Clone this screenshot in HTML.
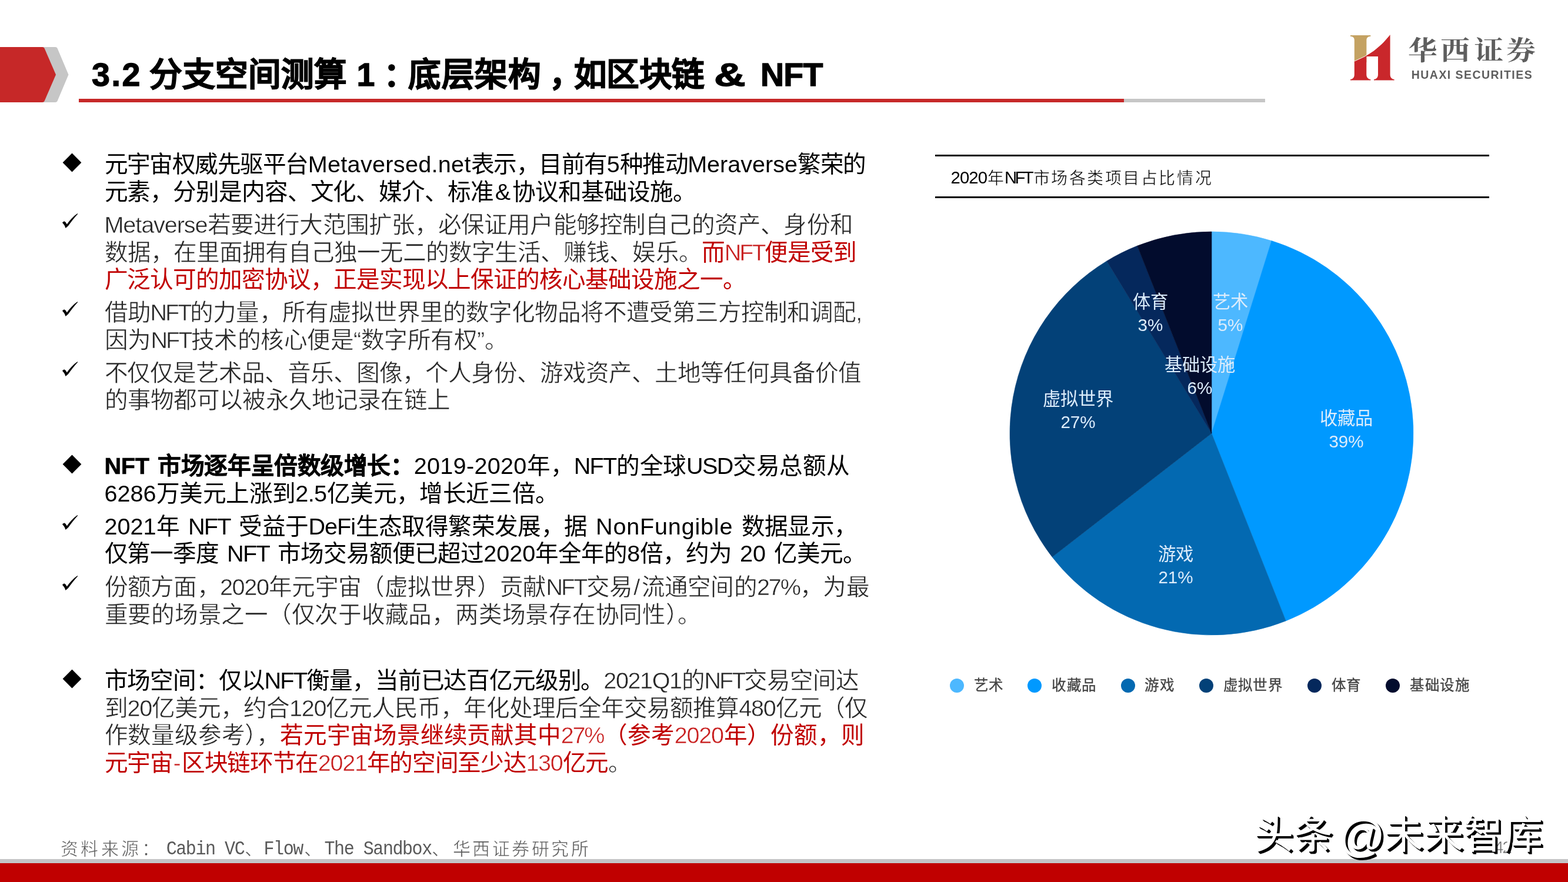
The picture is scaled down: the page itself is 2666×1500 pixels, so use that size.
<!DOCTYPE html>
<html lang="zh-CN">
<head>
<meta charset="utf-8">
<title>3.2 分支空间测算 1：底层架构，如区块链 &amp; NFT</title>
<style>
html,body{margin:0;padding:0}
body{width:2666px;height:1500px;position:relative;overflow:hidden;background:#fff;color:#000;
  font-family:"Liberation Sans",sans-serif}
p,h1,h2{margin:0;padding:0;font-weight:normal}
header,main,footer{position:absolute;left:0;top:0;width:2666px;height:1500px;will-change:transform}
.a,.al{letter-spacing:0}
.abs,.ln,.bl,.pie,.pl,.dot,.lg{position:absolute}
/* header */
.arrow{position:absolute;left:0;top:80px}
h1{position:absolute;left:0;top:89px;width:1500px;height:76px;line-height:76px;font-size:55.56px;font-weight:bold;white-space:nowrap}
h1 span{position:absolute;top:0;height:76px;text-align:justify;text-align-last:justify;letter-spacing:-0.6px;-webkit-text-stroke:1.3px #000}
.rule{position:absolute;left:134px;top:168px;width:2017px;height:6px;background:#c6c6c6}
.rule i{position:absolute;left:0;top:0;width:1777px;height:6px;background:#c62828}
.en{left:2399.8px;top:115.3px;height:24px;line-height:24px;font-size:19.5px;font-weight:bold;letter-spacing:1.45px;color:#5e5e5e;white-space:nowrap}
/* body text */
.ln{left:177.5px;height:46.67px;line-height:46.67px;font-size:39.6px;white-space:nowrap;
  text-align:justify;text-align-last:justify;letter-spacing:-1.2px;word-spacing:4px}
.lt{-webkit-text-stroke:0.5px #fff;color:#262626}
.rd{color:#c00000}
.rd .al{-webkit-text-stroke:0.5px #fff;color:#c81e1e}
.ln b{font-weight:bold;-webkit-text-stroke:0.7px #000}
/* chart */
.cline{position:absolute;left:1590px;width:942px;height:2.8px;background:#000}
.ctitle{position:absolute;left:0;top:285px;width:2666px;height:34px;line-height:34px;white-space:nowrap}
.ctitle span{position:absolute;top:0;height:34px}
.ctitle .cj{font-size:28px;margin-top:1.5px;text-align:justify;text-align-last:justify;-webkit-text-stroke:0.5px #fff}
.ctitle .la{font-size:29.3px;letter-spacing:-0.9px}
.ctitle .nft{letter-spacing:-3.6px}
.pie{left:1709.5px;top:387px}
.pl{width:200px;text-align:center;color:#dcecfb;font-size:30.3px;line-height:39px;white-space:nowrap}
.pl span{display:block;height:39px}
.pl .pp{font-size:29.6px}
.dot{top:1153.5px;width:24px;height:24px;border-radius:50%}
.lg{top:1150px;height:32px;line-height:32px;font-size:24.5px;color:#444;-webkit-text-stroke:0.35px #444;white-space:nowrap;text-align:justify;text-align-last:justify}
/* footer */
.src{position:absolute;top:1424px;height:36px;line-height:36px;color:#595959;white-space:nowrap}
.src.cj{font-size:30px;margin-top:1.5px;text-align:justify;text-align-last:justify;-webkit-text-stroke:0.6px #fff}
.src.mo{font-family:"Liberation Mono",monospace;font-size:30px;letter-spacing:-1.44px;transform-origin:0 25.5px;transform:translateY(3.4px) scaleY(1.126)}
.wm{position:absolute;left:0;top:1378px;width:2666px;height:84px;line-height:84px;font-size:67px;color:#fff;white-space:nowrap;
  text-shadow:2px 2px 0 #000,3px 3px 0 #000,4px 4px 0 #000}
.wm span{position:absolute;top:0;height:84px;text-align:justify;text-align-last:justify}
.pg{position:absolute;left:2540px;top:1424px;height:34px;line-height:34px;font-size:30px;color:#6e6e6e;letter-spacing:-2.5px;-webkit-text-stroke:0.5px #fff}
.fgray{position:absolute;left:0;top:1460.5px;width:2666px;height:7px;background:#c4c4c6}
.fred{position:absolute;left:0;top:1467.5px;width:2666px;height:32.5px;background:#c00000}
</style>
</head>
<body>
<header>
<svg class="arrow" width="120" height="94" viewBox="0 0 120 94" aria-hidden="true">
<path d="M70 0H94Q96.500 0 97.500 2L116.500 47 97.500 92Q96.500 94 94 94H70z" fill="#c6c6c6"/>
<path d="M0 0H72Q74.500 0 75.500 2L95 47 75.500 92Q74.500 94 72 94H0z" fill="#c62828"/>
</svg>
<h1><span style="left:156px;letter-spacing:2.6px">3.2</span><span style="left:253.5px;width:336px">分支空间测算</span><span style="left:606.5px">1</span><span style="left:652px">：</span><span style="left:694px;width:225px">底层架构</span><span style="left:934px">，</span><span style="left:976px;width:220px">如区块链</span><span style="left:1214px;transform:scaleX(1.34);transform-origin:0 50%">&amp;</span><span style="left:1293px;letter-spacing:-0.8px">NFT</span></h1>
<div class="rule"><i></i></div>
<svg class="abs" style="left:2290px;top:55px" width="330" height="85" viewBox="0 0 330 85" role="img" aria-label="华西证券 HUAXI SECURITIES"><title>华西证券</title>
<g transform="translate(6 5)"><path d="M0 0H34.4V1.7C30.4 2.3 27.4 3.6 27.4 8.2V46H6.8V8.2C6.8 3.6 4 2.3 0 1.7z" fill="#c4a262"/><path d="M6.8 44.1Q43.65 29.95 67.2 -0.9L67.6 -0.4V66.5C67.6 72 70.4 74.3 74.6 75V76.6H40V75C44.2 74.3 47 72 47 66.5V36.1H27.3V66.5C27.3 72 30.2 74.3 34.4 75V76.6H0V75C4.2 74.3 6.8 72 6.8 66.5z" fill="#c9272b"/><path d="M6.6 44.2Q43.65 29.95 67.2 -0.9" fill="none" stroke="#fff" stroke-width="0.9"/></g>
<text transform="translate(0 46.66) scale(1 0.908)" x="103.96 159.20 216.45 271.35" y="0" font-family="'Liberation Serif','Noto Serif CJK SC',serif" font-size="49.8" font-weight="bold" fill="#5e5e5e">华西证券</text>
</svg>
<div class="abs en">HUAXI SECURITIES</div>
</header>
<main>
<section class="text">
<p class="ln" style="top:255.8px;width:1294.0px;letter-spacing:-1.60px">元宇宙权威先驱平台<span class="a" style="letter-spacing:0.3px">Metaversed.net</span>表示，目前有<span class="a">5</span>种推动<span class="a">Meraverse</span>繁荣的</p>
<p class="ln" style="top:302.5px;width:1005.0px">元素，分别是内容、文化、媒介、标准<span class="a" style="margin:0 3.1px">&amp;</span>协议和基础设施。</p>
<p class="ln" style="top:359.0px;width:1272.0px"><span class="lt"><span class="al" style="letter-spacing:-1.1px">Metaverse</span>若要进行大范围扩张，必保证用户能够控制自己的资产、身份和</span></p>
<p class="ln" style="top:405.7px;width:1278.0px"><span class="lt">数据，在里面拥有自己独一无二的数字生活、赚钱、娱乐。</span><span class="rd">而<span class="al" style="letter-spacing:-3.1px">NFT</span>便是受到</span></p>
<p class="ln" style="top:452.0px;width:1090.0px"><span class="rd">广泛认可的加密协议，正是实现以上保证的核心基础设施之一。</span></p>
<p class="ln" style="top:508.3px;width:1286.0px"><span class="lt">借助<span class="al" style="letter-spacing:-3.1px">NFT</span>的力量，所有虚拟世界里的数字化物品将不遭受第三方控制和调配<span class="al" style="letter-spacing:-2.7px">,</span></span></p>
<p class="ln" style="top:554.7px;width:685.0px"><span class="lt">因为<span class="al" style="letter-spacing:-3.1px">NFT</span>技术的核心便是“数字所有权”。</span></p>
<p class="ln" style="top:610.9px;width:1286.0px"><span class="lt">不仅仅是艺术品、音乐、图像，个人身份、游戏资产、土地等任何具备价值</span></p>
<p class="ln" style="top:657.2px;width:587.0px"><span class="lt">的事物都可以被永久地记录在链上</span></p>
<p class="ln" style="top:769.4px;width:1266.0px"><b><span class="a" style="letter-spacing:-0.3px">NFT</span> 市场逐年呈倍数级增长：</b><span class="a" style="letter-spacing:0.3px">2019-2020</span>年，<span class="a" style="letter-spacing:-1.7px">NFT</span>的全球<span class="a" style="letter-spacing:-1.7px">USD</span>交易总额从</p>
<p class="ln" style="top:816.0px;width:771.5px"><span class="a">6286</span>万美元上涨到<span class="a" style="letter-spacing:-0.7px">2.5</span>亿美元，增长近三倍。</p>
<p class="ln" style="top:871.8px;width:1279.6px"><span class="a">2021</span>年 <span class="a" style="letter-spacing:-1.7px">NFT</span> 受益于<span class="a" style="letter-spacing:-1.0px">DeFi</span>生态取得繁荣发展，据 <span class="a" style="letter-spacing:0.8px">NonFungible</span> 数据显示，</p>
<p class="ln" style="top:918.4px;width:1294.0px">仅第一季度 <span class="a" style="letter-spacing:-1.7px">NFT</span> 市场交易额便已超过<span class="a">2020</span>年全年的<span class="a">8</span>倍，约为 <span class="a">20</span> 亿美元。</p>
<p class="ln" style="top:975.0px;width:1300.0px"><span class="lt">份额方面，<span class="al" style="letter-spacing:-1.3px">2020</span>年元宇宙（虚拟世界）贡献<span class="al" style="letter-spacing:-3.1px">NFT</span>交易<span class="al" style="margin:0 2.0px">/</span>流通空间的<span class="al" style="letter-spacing:-2.2px">27%</span>，为最</span></p>
<p class="ln" style="top:1021.6px;width:1013.0px"><span class="lt">重要的场景之一（仅次于收藏品，两类场景存在协同性）。</span></p>
<p class="ln" style="top:1134.0px;width:1282.0px">市场空间：仅以<span class="a" style="letter-spacing:-1.7px">NFT</span>衡量，当前已达百亿元级别。<span class="lt"><span class="al" style="letter-spacing:-1.4px">2021Q1</span>的<span class="al" style="letter-spacing:-3.1px">NFT</span>交易空间达</span></p>
<p class="ln" style="top:1180.8px;width:1297.0px"><span class="lt">到<span class="al" style="letter-spacing:-1.3px">20</span>亿美元，约合<span class="al" style="letter-spacing:-1.3px">120</span>亿元人民币，年化处理后全年交易额推算<span class="al" style="letter-spacing:-1.3px">480</span>亿元（仅</span></p>
<p class="ln" style="top:1227.4px;width:1291.0px"><span class="lt">作数量级参考），</span><span class="rd">若元宇宙场景继续贡献其中<span class="al" style="letter-spacing:-2.2px">27%</span>（参考<span class="al" style="letter-spacing:-1.3px">2020</span>年）份额，则</span></p>
<p class="ln" style="top:1274.0px;width:895.0px;letter-spacing:-1.42px"><span class="rd">元宇宙<span class="al" style="margin:0 1.1px">-</span>区块链环节在<span class="al" style="letter-spacing:-1.3px">2021</span>年的空间至少达<span class="al" style="letter-spacing:-1.3px">130</span>亿元</span><span class="lt">。</span></p>
<svg class="bl" style="left:105.8px;top:259.8px" width="33" height="33" viewBox="-16.5 -16.5 33 33" aria-hidden="true"><path d="M0-15.9L15.9 0 0 15.9-15.9 0z" fill="#000"/></svg>
<svg class="bl" style="left:105px;top:362.4px" width="30" height="28" viewBox="0 0 30 28" aria-hidden="true"><path d="M0.9 16.5L4 14.2C6 14.6 7.6 17 8.7 19.5C13 13 19 6.5 26.6 0.9L27.1 1.9C21.5 8 16 15 10.9 22.3L6.5 25.9C5.6 23 4.4 20.6 3.1 19.2z" fill="#000"/></svg>
<svg class="bl" style="left:105px;top:511.7px" width="30" height="28" viewBox="0 0 30 28" aria-hidden="true"><path d="M0.9 16.5L4 14.2C6 14.6 7.6 17 8.7 19.5C13 13 19 6.5 26.6 0.9L27.1 1.9C21.5 8 16 15 10.9 22.3L6.5 25.9C5.6 23 4.4 20.6 3.1 19.2z" fill="#000"/></svg>
<svg class="bl" style="left:105px;top:614.3px" width="30" height="28" viewBox="0 0 30 28" aria-hidden="true"><path d="M0.9 16.5L4 14.2C6 14.6 7.6 17 8.7 19.5C13 13 19 6.5 26.6 0.9L27.1 1.9C21.5 8 16 15 10.9 22.3L6.5 25.9C5.6 23 4.4 20.6 3.1 19.2z" fill="#000"/></svg>
<svg class="bl" style="left:105.8px;top:773.4px" width="33" height="33" viewBox="-16.5 -16.5 33 33" aria-hidden="true"><path d="M0-15.9L15.9 0 0 15.9-15.9 0z" fill="#000"/></svg>
<svg class="bl" style="left:105px;top:875.2px" width="30" height="28" viewBox="0 0 30 28" aria-hidden="true"><path d="M0.9 16.5L4 14.2C6 14.6 7.6 17 8.7 19.5C13 13 19 6.5 26.6 0.9L27.1 1.9C21.5 8 16 15 10.9 22.3L6.5 25.9C5.6 23 4.4 20.6 3.1 19.2z" fill="#000"/></svg>
<svg class="bl" style="left:105px;top:978.4px" width="30" height="28" viewBox="0 0 30 28" aria-hidden="true"><path d="M0.9 16.5L4 14.2C6 14.6 7.6 17 8.7 19.5C13 13 19 6.5 26.6 0.9L27.1 1.9C21.5 8 16 15 10.9 22.3L6.5 25.9C5.6 23 4.4 20.6 3.1 19.2z" fill="#000"/></svg>
<svg class="bl" style="left:105.8px;top:1138.0px" width="33" height="33" viewBox="-16.5 -16.5 33 33" aria-hidden="true"><path d="M0-15.9L15.9 0 0 15.9-15.9 0z" fill="#000"/></svg>
</section>
<section class="chart">
<div class="cline" style="top:263.3px"></div>
<h2 class="ctitle"><span class="la" style="left:1616.5px">2020</span><span class="cj" style="left:1679px;width:29px">年</span><span class="la nft" style="left:1708px">NFT</span><span class="cj" style="left:1756.5px;width:303px">市场各类项目占比情况</span></h2>
<div class="cline" style="top:334px"></div>
<svg class="pie" width="700" height="700" viewBox="1709.5 387.0 700 700" role="img" aria-label="2020年NFT市场各类项目占比">
<path d="M2059.5 737.0L2059.50 394.00A343 343 0 0 1 2161.50 409.52Z" fill="#4db8ff" stroke="#4db8ff" stroke-width="0.6"/>
<path d="M2059.5 737.0L2161.50 409.52A343 343 0 0 1 2185.77 1055.91Z" fill="#0099ff" stroke="#0099ff" stroke-width="0.6"/>
<path d="M2059.5 737.0L2185.77 1055.91A343 343 0 0 1 1788.48 947.23Z" fill="#0369b1" stroke="#0369b1" stroke-width="0.6"/>
<path d="M2059.5 737.0L1788.48 947.23A343 343 0 0 1 1881.30 443.92Z" fill="#034178" stroke="#034178" stroke-width="0.6"/>
<path d="M2059.5 737.0L1881.30 443.92A343 343 0 0 1 1933.23 418.09Z" fill="#05285c" stroke="#05285c" stroke-width="0.6"/>
<path d="M2059.5 737.0L1933.23 418.09A343 343 0 0 1 2059.50 394.00Z" fill="#020c2d" stroke="#020c2d" stroke-width="0.6"/>
</svg>
<div class="pl" style="left:1992.0px;top:494.0px"><span class="pn">艺术</span><span class="pp">5%</span></div>
<div class="pl" style="left:1856.0px;top:494.0px"><span class="pn">体育</span><span class="pp">3%</span></div>
<div class="pl" style="left:1940.0px;top:600.8px"><span class="pn">基础设施</span><span class="pp">6%</span></div>
<div class="pl" style="left:1733.0px;top:658.7px"><span class="pn">虚拟世界</span><span class="pp">27%</span></div>
<div class="pl" style="left:2189.0px;top:692.0px"><span class="pn">收藏品</span><span class="pp">39%</span></div>
<div class="pl" style="left:1899.0px;top:923.2px"><span class="pn">游戏</span><span class="pp">21%</span></div>
<i class="dot" style="left:1614.5px;background:#4db8ff"></i><span class="lg" style="left:1655.9px;width:49.6px">艺术</span>
<i class="dot" style="left:1747.0px;background:#0099ff"></i><span class="lg" style="left:1788.4px;width:75.1px">收藏品</span>
<i class="dot" style="left:1905.7px;background:#0369b1"></i><span class="lg" style="left:1946.4px;width:49.9px">游戏</span>
<i class="dot" style="left:2038.9px;background:#034178"></i><span class="lg" style="left:2079.5px;width:100.4px">虚拟世界</span>
<i class="dot" style="left:2223.2px;background:#05285c"></i><span class="lg" style="left:2263.9px;width:49.2px">体育</span>
<i class="dot" style="left:2356.4px;background:#020c2d"></i><span class="lg" style="left:2397.1px;width:101.0px">基础设施</span>
</section>
</main>
<footer>
<div class="fgray"></div>
<div class="fred"></div>
<p class="srcline">
<span class="src cj" style="left:102.5px;width:168px">资料来源：</span>
<span class="src mo" style="left:282.7px">Cabin VC</span>
<span class="src cj" style="left:416px;width:33px">、</span>
<span class="src mo" style="left:448.5px">Flow</span>
<span class="src cj" style="left:517px;width:33px">、</span>
<span class="src mo" style="left:551.5px">The Sandbox</span>
<span class="src cj" style="left:734px;width:33px">、</span>
<span class="src cj" style="left:769.5px;width:231px">华西证券研究所</span>
</p>
<div class="pg">42</div>
<div class="wm"><span style="left:2132px;width:130px">头条</span><span style="left:2276px;font-size:78px;top:2px">@</span><span style="left:2353px;width:270px">未来智库</span></div>
</footer>
</body>
</html>
